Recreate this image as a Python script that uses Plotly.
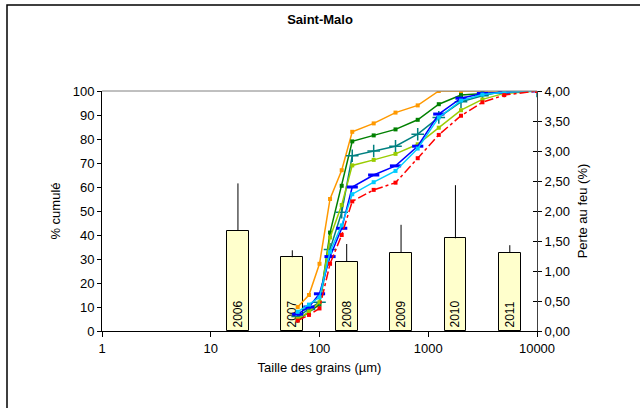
import plotly.graph_objects as go

# Sieve sizes (µm) and cumulative passing (%) for each sample curve
sizes = [63, 80, 100, 125, 160, 200, 315, 500, 800, 1250, 2000, 3150, 5000, 10000]

orange = [10, 15, 28, 55, 67, 83, 86.5, 91, 94, 100, 100, 100, 100, 100]
dark_green = [4.5, 8, 11, 41, 60.5, 79, 81.5, 84, 88, 94.5, 98.3, 99, 99.5, 100]
teal = [6, 9, 12, 34, 49.5, 73, 75, 77, 82, 89, 95.5, 98, 100, 100]
yellow_green = [5, 8, 12, 39, 52.5, 69, 71.3, 73.8, 77.8, 84.7, 92, 96.5, 99, 100]
blue = [7, 10, 15.5, 31, 42.8, 60, 65, 68.8, 77, 90.4, 97, 99, 99.5, 100]
cyan = [8, 11, 14, 33, 44, 57, 62, 66.7, 76, 89, 96, 98.5, 99.5, 100]
red = [4.3, 6.7, 9.4, 28, 40, 54, 58.8, 61.8, 72, 81.7, 89.7, 95.3, 98.3, 100]

# Loss on ignition per year (%), with upper error extent
years = ["2006", "2007", "2008", "2009", "2010", "2011"]
loi = [1.67, 1.23, 1.155, 1.305, 1.545, 1.305]
loi_err = [0.79, 0.115, 0.295, 0.465, 0.885, 0.125]
year_slots = [2, 3, 4, 5, 6, 7]

FONT = "Liberation Sans, Arial, sans-serif"

fig = go.Figure()

fig.add_trace(go.Bar(
    x=year_slots, y=loi, xaxis="x", yaxis="y",
    width=0.4,
    marker=dict(color="#FFFFCC", line=dict(color="black", width=1)),
    error_y=dict(type="data", array=loi_err, arrayminus=[0] * len(loi),
                 symmetric=False, color="black", thickness=1, width=0),
    text=years, textposition="inside", insidetextanchor="start",
    textangle=-90, constraintext="none",
    textfont=dict(family=FONT, size=12, color="black"),
    showlegend=False, hoverinfo="skip",
))

curves = [
    (orange, "#FF9900", dict(symbol="square", size=4), "solid"),
    (dark_green, "#008000", dict(symbol="square", size=4), "solid"),
    (teal, "#008080", dict(symbol="cross-thin", size=9, line=dict(width=1.5, color="#008080")), "solid"),
    (yellow_green, "#99CC00", dict(symbol="square", size=4), "solid"),
    (blue, "#0000FF", dict(symbol="line-ew", size=8, line=dict(width=3, color="#0000FF")), "solid"),
    (cyan, "#00CCFF", dict(symbol="square", size=4), "solid"),
    (red, "#FF0000", dict(symbol="square", size=4), "dashdot"),
]
for vals, col, mk, dash in curves:
    fig.add_trace(go.Scatter(
        x=sizes, y=vals, xaxis="x2", yaxis="y2",
        mode="lines+markers",
        line=dict(color=col, width=1.5, dash=dash),
        marker=dict(color=col, **mk),
        showlegend=False,
    ))

tickfont = dict(family=FONT, size=13, color="black")
titlefont = dict(family=FONT, size=13, color="black")

fig.update_layout(
    width=640, height=408,
    margin=dict(l=102, r=103, t=91, b=77),
    paper_bgcolor="white", plot_bgcolor="white",
    separators=", ",
    bargap=0,
    title=dict(text="<b>Saint-Malo</b>", x=0.5, xanchor="center",
               y=1 - 19 / 408, yanchor="middle",
               font=dict(family=FONT, size=13, color="black")),
    xaxis=dict(range=[-0.5, 7.5], visible=False, fixedrange=True),
    yaxis=dict(side="right", range=[0, 4], dtick=0.5, tickformat=".2f",
               showgrid=False, zeroline=False,
               showline=True, linecolor="#404040", linewidth=1,
               ticks="outside", ticklen=4, tickcolor="black",
               tickfont=tickfont,
               title=dict(text="Perte au feu (%)", font=titlefont, standoff=8)),
    xaxis2=dict(overlaying="x", anchor="y2", side="bottom", type="log",
                range=[0, 4], dtick=1, tickformat="d",
                showgrid=False, zeroline=False,
                showline=True, linecolor="black", linewidth=1,
                ticks="outside", ticklen=5, tickcolor="black",
                tickfont=tickfont,
                title=dict(text="Taille des grains (µm)", font=titlefont, standoff=8)),
    yaxis2=dict(overlaying="y", side="left", range=[0, 100], dtick=10,
                showgrid=False, zeroline=False,
                showline=True, linecolor="black", linewidth=1,
                ticks="outside", ticklen=4, tickcolor="black",
                tickfont=tickfont,
                title=dict(text="% cumulé", font=titlefont, standoff=9)),
    yaxis3=dict(overlaying="y", side="right", range=[0, 4], dtick=0.5,
                showgrid=False, zeroline=False, showline=False,
                showticklabels=False, ticks="inside", ticklen=4,
                tickcolor="black", fixedrange=True),
    shapes=[
        # top edge of the plot area at 100 %
        dict(type="line", xref="paper", yref="paper", x0=0, x1=1, y0=1, y1=1,
             line=dict(color="#808080", width=1)),
        # outer chart frame
        dict(type="rect", xref="paper", yref="paper",
             x0=-95 / 435, x1=2, y0=-1, y1=326 / 240,
             line=dict(color="black", width=1.5)),
    ],
)

# dummy trace so the inner-tick axis is rendered
fig.add_trace(go.Scatter(x=[None], y=[None], xaxis="x", yaxis="y3",
                         showlegend=False, hoverinfo="skip"))

fig.write_html("out.html")
